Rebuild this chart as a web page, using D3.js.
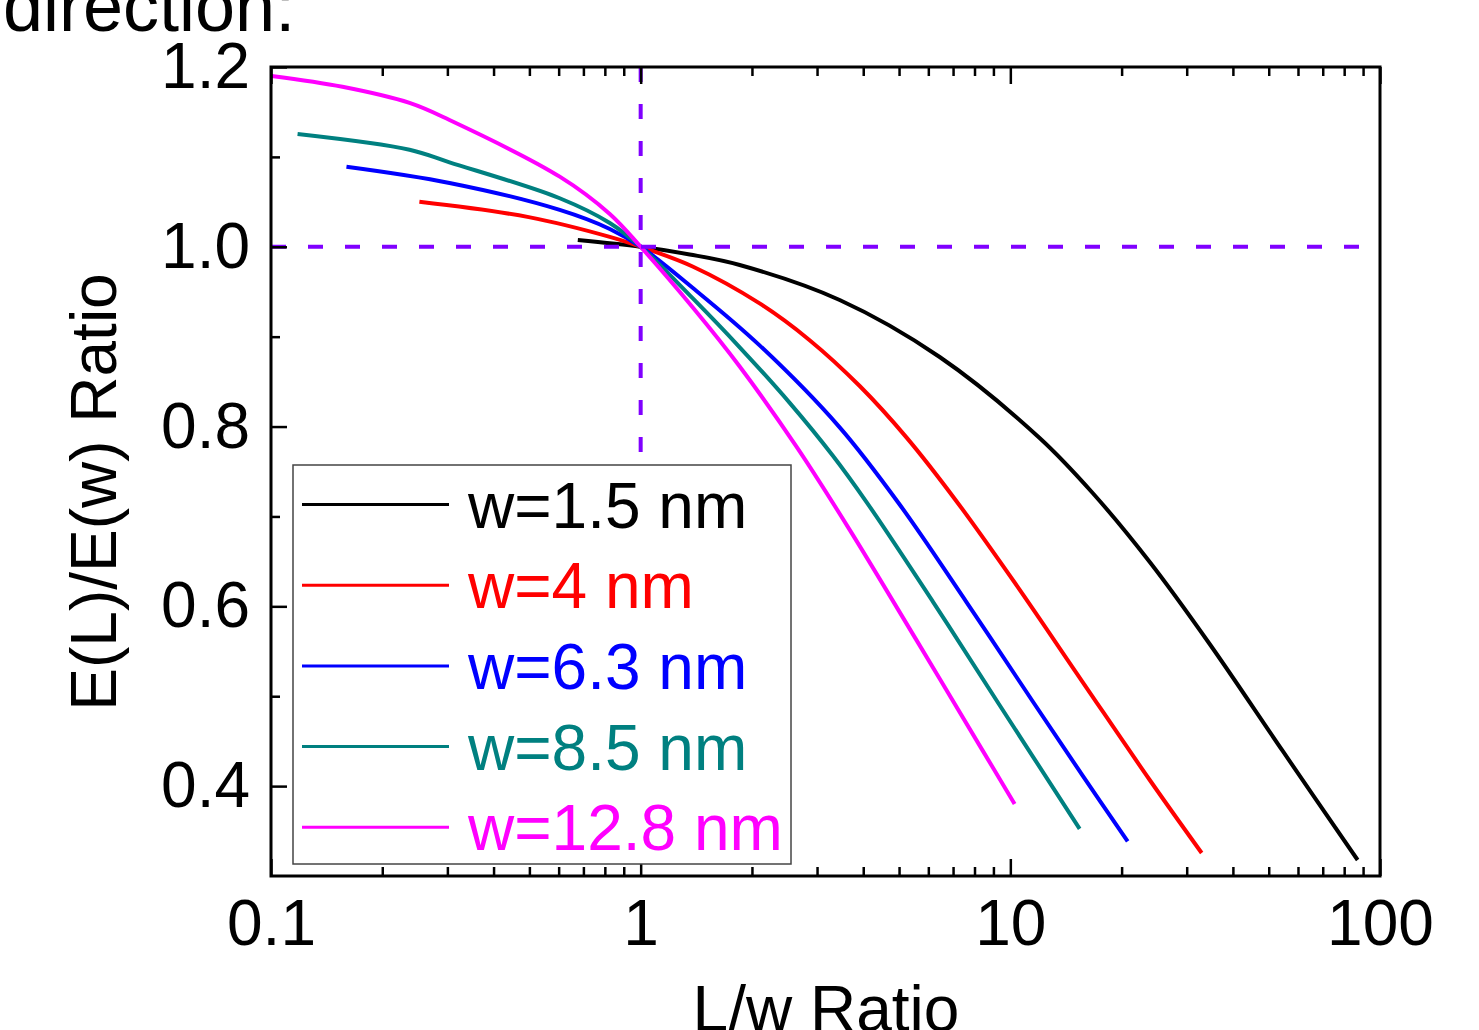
<!DOCTYPE html>
<html>
<head>
<meta charset="utf-8">
<script src="https://cdn.jsdelivr.net/npm/d3@7"></script>
<style>
  body { margin: 0; background: #fff; }
  svg text { font-family: Arial, "Liberation Sans", sans-serif; }
</style>
</head>
<body>
<script>
// series: [L/w, E(L)/E(w)]
var labels = ["w=1.5 nm", "w=4 nm", "w=6.3 nm", "w=8.5 nm", "w=12.8 nm"];
var colors = ["#000000", "#ff0000", "#0000ff", "#008080", "#ff00ff"];

var w15 = [[0.676,1.0075],[1,1],[1.357,0.9915],[1.853,0.9797],[3.454,0.9408],[6.44,0.8774],[12.0,0.7873],
           [16.7,0.7261],[23.83,0.6493],[34.61,0.5581],[54.54,0.4391],[87.0,0.3178]];
var w4 = [[0.252,1.050],[0.498,1.033],[0.825,1.011],[1,1],[1.382,0.9781],[2.098,0.937],[2.865,0.8961],
          [3.913,0.8451],[5.242,0.7877],[7.158,0.7167],[10.40,0.6233],[15.69,0.5158],[23.83,0.4068],[32.93,0.3256]];
var w63 = [[0.160,1.089],[0.304,1.071],[0.604,1.041],[0.825,1.0198],[1,1],[1.382,0.9544],[2.098,0.8903],
           [3.454,0.7991],[5.018,0.7133],[7.617,0.6045],[11.49,0.4944],[15.69,0.4117],[20.77,0.3386]];
var w85 = [[0.118,1.1255],[0.237,1.108],[0.304,1.094],[0.604,1.054],[0.825,1.0265],[1,1],[1.382,0.9428],
           [1.853,0.8882],[2.530,0.8264],[3.307,0.7678],[4.088,0.7157],[6.165,0.6056],[9.357,0.490],[15.40,0.3525]];
var w128 = [[0.1004,1.190],[0.156,1.178],[0.237,1.160],[0.304,1.141],[0.604,1.078],[0.825,1.0365],[1,1],
            [1.382,0.9327],[1.853,0.8668],[2.642,0.7774],[3.677,0.6851],[5.579,0.5621],[8.418,0.4395],[10.27,0.3802]];
var series = [w15, w4, w63, w85, w128];

var xMajor = [0.1, 1, 10, 100];
var xMinor = [];
[0.1, 1, 10].forEach(function(d){ for (var k = 2; k <= 9; k++) xMinor.push(d*k); });
var yMajor = [0.4, 0.6, 0.8, 1.0, 1.2];
var yMinor = [0.5, 0.7, 0.9, 1.1];

var margin = {top: 67, right: 99, bottom: 154, left: 271},
    width  = 1479 - margin.left - margin.right,
    height = 1030 - margin.top - margin.bottom;

var svg = d3.select("body").append("svg")
  .attr("width", 1479)
  .attr("height", 1030);

var g = svg.append("g").attr("transform", "translate(" + margin.left + "," + margin.top + ")");

var x = d3.scaleLog().domain([0.1, 100]).range([0, width]);
var y = d3.scaleLinear().domain([0.3, 1.2]).range([height, 0]);

// title fragment, cut at the top like the source
svg.append("text").attr("x", 3).attr("y", 31)
  .style("font-size", "72px").text("direction:");

// curves
var line = d3.line()
  .x(function(d){ return x(d[0]); })
  .y(function(d){ return y(d[1]); })
  .curve(d3.curveCatmullRom.alpha(0.5));

g.selectAll(".curve").data(series).enter().append("path")
  .attr("class", "curve")
  .attr("d", line)
  .attr("fill", "none")
  .attr("stroke", function(d, i){ return colors[i]; })
  .attr("stroke-width", 4);

// dashed reference lines
g.append("line").attr("x1", x(1)).attr("x2", x(1)).attr("y1", 0).attr("y2", height)
  .attr("stroke", "#8000ff").attr("stroke-width", 4).attr("stroke-dasharray", "15,22");
g.append("line").attr("x1", 0).attr("x2", width).attr("y1", y(1)).attr("y2", y(1))
  .attr("stroke", "#8000ff").attr("stroke-width", 4).attr("stroke-dasharray", "15,22");

// axes, ticks pointing in
function styleAxis(sel) {
  sel.select(".domain").remove();
  sel.selectAll("line").attr("stroke", "#000").attr("stroke-width", 2.5);
  sel.selectAll("text").style("font-size", "64px").attr("fill", "#000")
    .style("font-family", "Arial, 'Liberation Sans', sans-serif");
}

g.append("g").attr("transform", "translate(0," + height + ")")
  .call(d3.axisBottom(x).tickValues(xMajor).tickSize(-17).tickPadding(24)
    .tickFormat(function(d){ return d < 1 ? "0.1" : d3.format("d")(d); }))
  .call(styleAxis);
g.append("g").attr("transform", "translate(0," + height + ")")
  .call(d3.axisBottom(x).tickValues(xMinor).tickSize(-9).tickFormat(""))
  .call(styleAxis);
g.append("g")
  .call(d3.axisTop(x).tickValues(xMajor).tickSize(-17).tickFormat(""))
  .call(styleAxis);
g.append("g")
  .call(d3.axisTop(x).tickValues(xMinor).tickSize(-9).tickFormat(""))
  .call(styleAxis);

g.append("g")
  .call(d3.axisLeft(y).tickValues(yMajor).tickSize(-16).tickPadding(21).tickFormat(d3.format(".1f")))
  .call(styleAxis);
g.append("g")
  .call(d3.axisLeft(y).tickValues(yMinor).tickSize(-9).tickFormat(""))
  .call(styleAxis);

// frame
g.append("rect").attr("x", 0).attr("y", 0).attr("width", width).attr("height", height)
  .attr("fill", "none").attr("stroke", "#000").attr("stroke-width", 3);

// legend
var legend = svg.append("g").attr("transform", "translate(293,465)");
legend.append("rect").attr("width", 498).attr("height", 399)
  .attr("fill", "#fff").attr("stroke", "#444").attr("stroke-width", 1.5);
var item = legend.selectAll(".item").data(labels).enter().append("g")
  .attr("transform", function(d, i){ return "translate(0," + (39.5 + i*80.7) + ")"; });
item.append("line").attr("x1", 9).attr("x2", 156)
  .attr("stroke", function(d, i){ return colors[i]; }).attr("stroke-width", 3);
item.append("text").attr("x", 175).attr("y", 23)
  .style("font-size", "64px")
  .attr("fill", function(d, i){ return colors[i]; })
  .text(function(d){ return d; });

// axis titles
svg.append("text").attr("x", 826).attr("y", 1031)
  .attr("text-anchor", "middle").style("font-size", "64px").text("L/w Ratio");
svg.append("text").attr("transform", "translate(116,492) rotate(-90)")
  .attr("text-anchor", "middle").style("font-size", "64px").text("E(L)/E(w) Ratio");
</script>
</body>
</html>
